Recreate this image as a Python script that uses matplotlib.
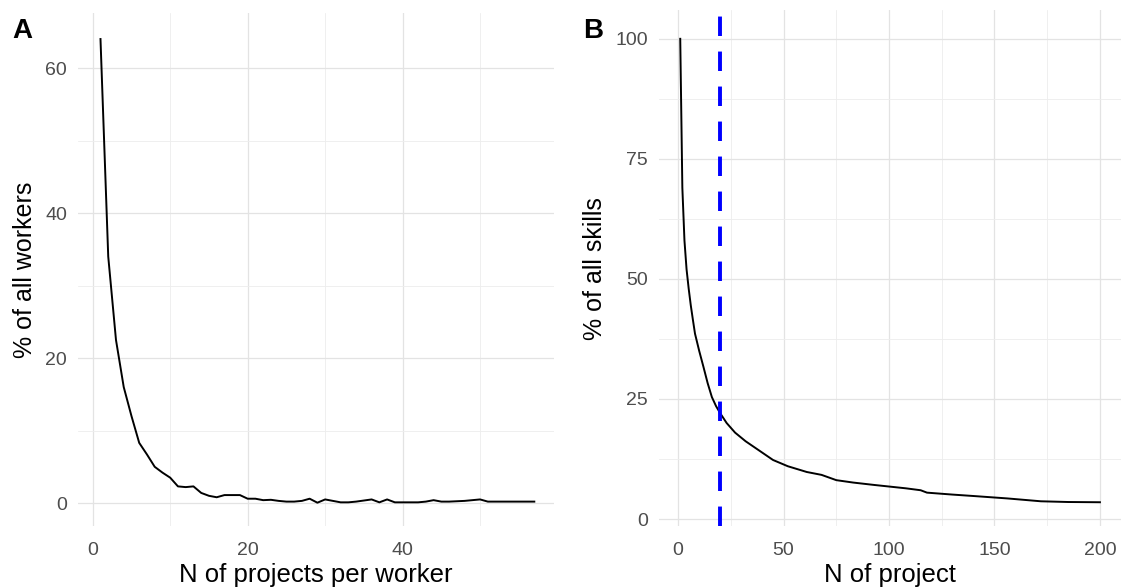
import matplotlib.pyplot as plt
from matplotlib.ticker import MultipleLocator

plt.rcParams['font.family'] = ['Liberation Sans', 'DejaVu Sans']

# Panel A: share of workers by number of projects
projects_per_worker = list(range(1, 58))
pct_workers = [64, 34, 22.5, 16, 12, 8.3, 6.7, 5.0, 4.2, 3.5,
               2.3, 2.2, 2.3, 1.4, 1.0, 0.8, 1.1, 1.1, 1.1, 0.6,
               0.6, 0.4, 0.45, 0.3, 0.2, 0.2, 0.3, 0.6, 0.05, 0.5,
               0.3, 0.1, 0.1, 0.2, 0.35, 0.5, 0.1, 0.5, 0.1, 0.1,
               0.1, 0.1, 0.2, 0.4, 0.2, 0.2, 0.25, 0.3, 0.4, 0.5,
               0.2, 0.2, 0.2, 0.2, 0.2, 0.2, 0.2]

# Panel B: share of skills by number of projects
n_project = [1, 2, 3, 4, 5, 6, 7, 8, 10, 12, 14, 16, 18, 20, 23, 27, 32,
             37, 45, 52, 61, 68, 75, 83, 93, 108, 115, 118, 130, 140, 156,
             172, 185, 200]
pct_skills = [100, 69, 58, 52, 48, 44.5, 41.5, 38.6, 35, 31.7, 28.3, 25.4,
              23.5, 22, 20, 18, 16.2, 14.7, 12.3, 11, 9.8, 9.2, 8.1, 7.6,
              7.1, 6.4, 6.0, 5.5, 5.1, 4.8, 4.3, 3.7, 3.55, 3.5]
cutoff = 20

TICK_COLOR = '#4D4D4D'


def style_axes(ax, xmajor, ymajor):
    for spine in ax.spines.values():
        spine.set_visible(False)
    ax.xaxis.set_major_locator(MultipleLocator(xmajor))
    ax.xaxis.set_minor_locator(MultipleLocator(xmajor / 2))
    ax.yaxis.set_major_locator(MultipleLocator(ymajor))
    ax.yaxis.set_minor_locator(MultipleLocator(ymajor / 2))
    ax.grid(True, which='major', color='#E3E3E3', linewidth=0.9)
    ax.grid(True, which='minor', color='#EDEDED', linewidth=0.6)
    ax.set_axisbelow(True)
    ax.tick_params(which='both', length=0, labelsize=14,
                   labelcolor=TICK_COLOR)
    ax.tick_params(axis='x', pad=11)
    ax.tick_params(axis='y', pad=8)


fig = plt.figure(figsize=(11.21, 5.88), dpi=100)
ax_a = fig.add_axes([0.0696, 0.105, 0.425, 0.873])
ax_b = fig.add_axes([0.588, 0.105, 0.412, 0.878])

ax_a.plot(projects_per_worker, pct_workers, color='black', linewidth=1.4)
style_axes(ax_a, 20, 20)
ax_a.set_xlim(-1.9, 59.6)
ax_a.set_ylim(-3.2, 67.6)
ax_a.set_xlabel('N of projects per worker', fontsize=18.5, labelpad=3)
ax_a.set_ylabel('% of all workers', fontsize=18, labelpad=6)

ax_b.plot(n_project, pct_skills, color='black', linewidth=1.4)
ax_b.axvline(cutoff, color='#0000FF', linewidth=2.8, dashes=(5, 4))
style_axes(ax_b, 50, 25)
ax_b.set_xlim(-9, 210)
ax_b.set_ylim(-1.5, 106)
ax_b.set_xlabel('N of project', fontsize=18.5, labelpad=3)
ax_b.set_ylabel('% of all skills', fontsize=18, labelpad=6)

fig.text(0.011, 0.935, 'A', fontsize=20, fontweight='bold')
fig.text(0.520, 0.935, 'B', fontsize=20, fontweight='bold')

fig.savefig('out.png', dpi=100)
